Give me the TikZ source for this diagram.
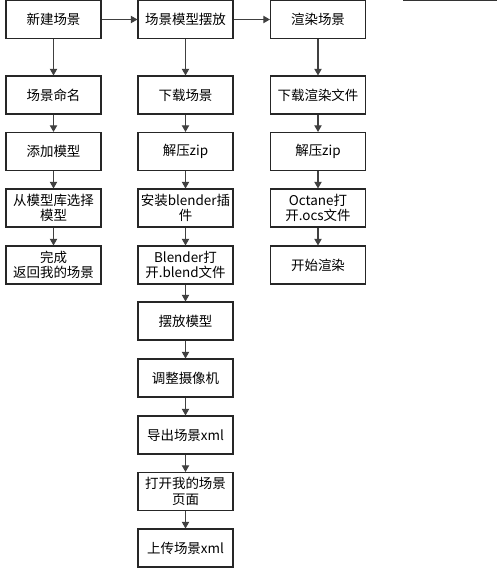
\documentclass[tikz,border=0pt]{standalone}
\usepackage{fontspec}
\setmainfont{Noto Sans CJK SC}
\usetikzlibrary{arrows.meta}
\begin{document}
\begin{tikzpicture}[x=0.75pt,y=-0.75pt,
  box/.style={draw=black!85,line width=0.8pt,fill=white,minimum width=71.25pt,minimum height=28.5pt,
    inner sep=1pt,align=center,font=\fontsize{10.1pt}{11.6pt}\selectfont},
  link/.style={draw=black!75,line width=0.8pt,-{Triangle[length=5pt,width=5.5pt]}}]
\useasboundingbox (0,0) rectangle (498,588);
\draw[black!80,line width=0.9pt] (403,0.6) -- (497,0.6);
% column 1
\node[box] (a1) at (53.5,19.5) {新建场景};
\node[box] (a2) at (53.5,95) {场景命名};
\node[box] (a3) at (53.5,151.5) {添加模型};
\node[box] (a4) at (53.5,208) {从模型库选择\\模型};
\node[box] (a5) at (53.5,265) {完成\\返回我的场景};
% column 2
\node[box] (b1) at (185.5,19.5) {场景模型摆放};
\node[box] (b2) at (185.5,95) {下载场景};
\node[box] (b3) at (185.5,151.5) {解压zip};
\node[box] (b4) at (185.5,208) {安装blender插\\件};
\node[box] (b5) at (185.5,265) {Blender打\\开.blend文件};
\node[box] (b6) at (185.5,321) {摆放模型};
\node[box] (b7) at (185.5,378) {调整摄像机};
\node[box] (b8) at (185.5,435) {导出场景xml};
\node[box] (b9) at (185.5,491.5) {打开我的场景\\页面};
\node[box] (b10) at (185.5,548) {上传场景xml};
% column 3
\node[box] (c1) at (318,19.5) {渲染场景};
\node[box] (c2) at (318,95) {下载渲染文件};
\node[box] (c3) at (318,151.5) {解压zip};
\node[box] (c4) at (318,208) {Octane打\\开.ocs文件};
\node[box] (c5) at (318,265) {开始渲染};
% connectors
\draw[link] (a1) -- (b1);
\draw[link] (b1) -- (c1);
\foreach \p/\q in {a1/a2,a2/a3,a3/a4,a4/a5,
  b1/b2,b2/b3,b3/b4,b4/b5,b5/b6,b6/b7,b7/b8,b8/b9,b9/b10,
  c1/c2,c2/c3,c3/c4,c4/c5}
  \draw[link] (\p) -- (\q);
\end{tikzpicture}
\end{document}
